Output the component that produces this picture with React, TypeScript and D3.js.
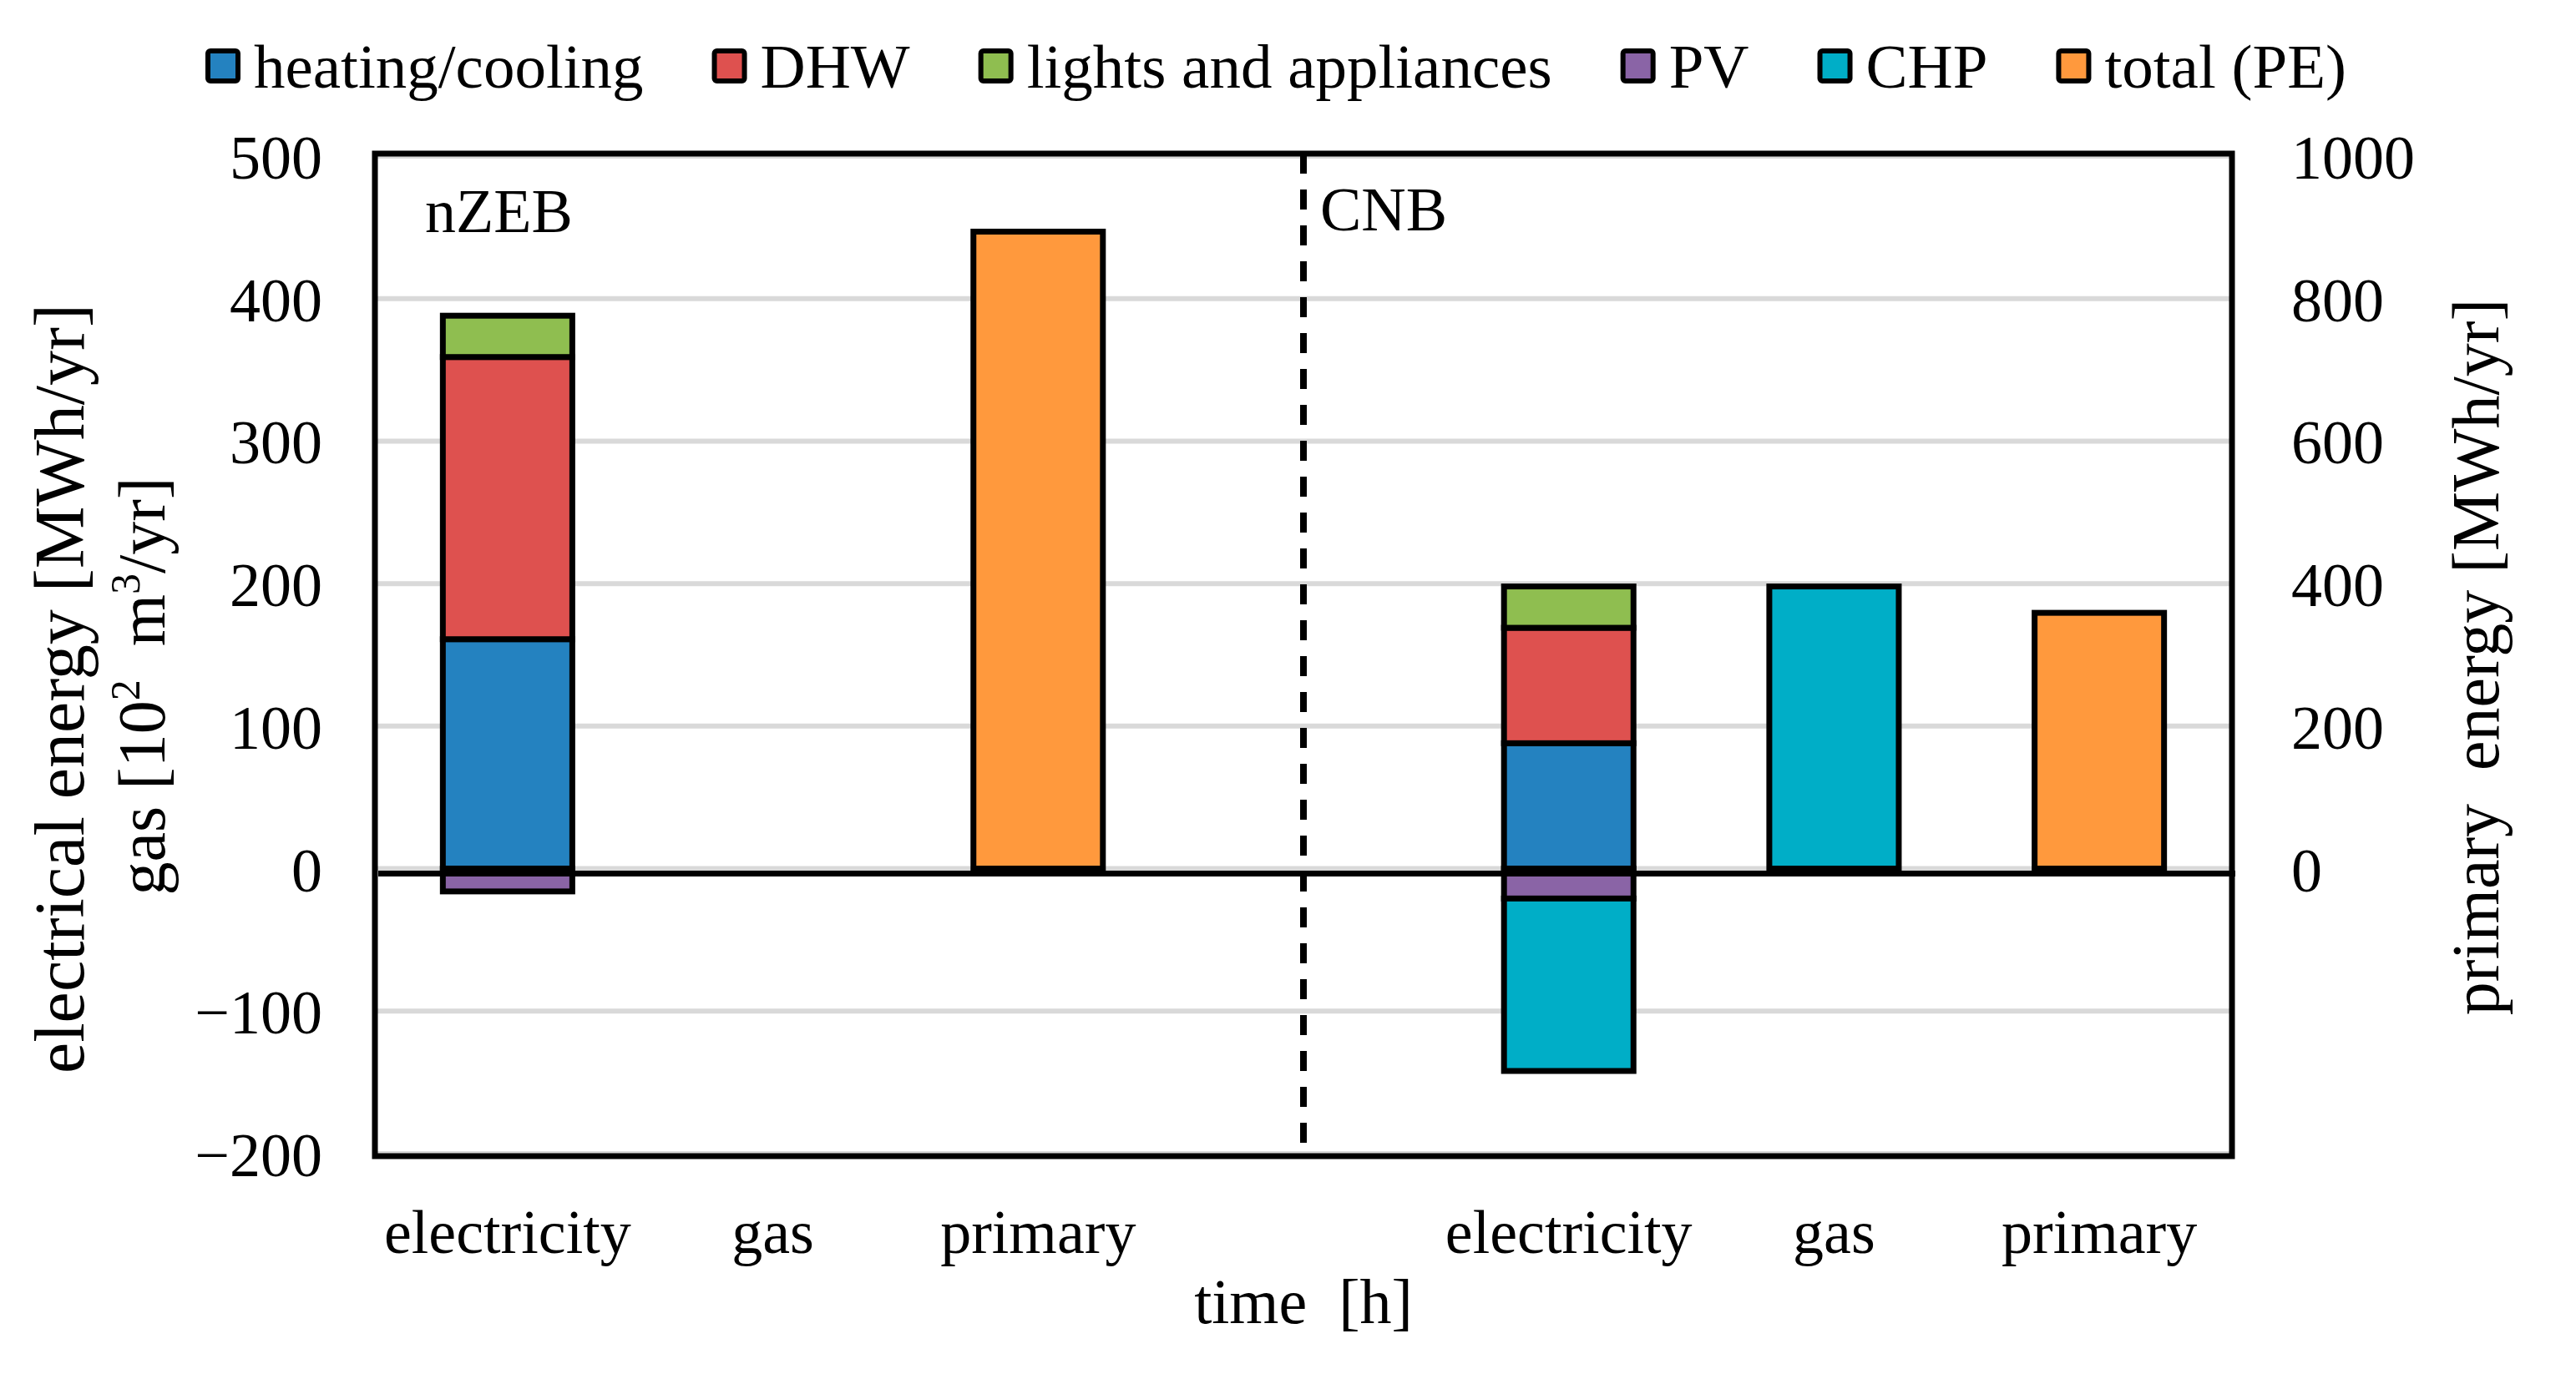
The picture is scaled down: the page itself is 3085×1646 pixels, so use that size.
import React from "react";
import * as d3 from "d3";

// ---- data ----
const buildings = ["nZEB", "CNB"];
const carriers = ["electricity", "gas", "primary"];

// electricity side [MWh/yr]
const heatingCooling = [161, 88];
const dhw = [198, 81];
const lightsAppliances = [29, 29];
const pv = [-16, -21];
const chpElectric = [0, -121];
// gas side [10^2 m3/yr]
const chpGas = [0, 198];
// primary energy, right axis [MWh/yr]
const primaryTotal = [894, 359];

const seriesNames = ["heating/cooling", "DHW", "lights and appliances", "PV", "CHP", "total (PE)"];
const seriesColors = ["#2482C0", "#DE514F", "#8FBE50", "#8A64A6", "#00AEC7", "#FF993D"];

const leftTicks = [-200, -100, 0, 100, 200, 300, 400, 500];
const rightTicks = [0, 200, 400, 600, 800, 1000];

// ---- layout ----
const W = 3085;
const H = 1646;
const X0 = 449;
const X1 = 2673;
const Y0 = 187;
const Y1 = 1382;
const FONT = "'Liberation Serif', 'Times New Roman', serif";
const FS = 74;

type Seg = { key: string; slot: string; a: number; b: number; color: string };

const slotKey = (b: string, c: string) => `${b}|${c}`;

const App = () => {
  const slots = [
    ...carriers.map((c) => slotKey(buildings[0], c)),
    "sep",
    ...carriers.map((c) => slotKey(buildings[1], c)),
  ];

  const x = d3.scaleBand<string>().domain(slots).range([X0, X1]).paddingInner(0.512).paddingOuter(0.256);
  const y = d3.scaleLinear().domain([-200, 500]).range([Y1, Y0]);
  const yR = d3.scaleLinear().domain([-400, 1000]).range([Y1, Y0]);

  const segs: Seg[] = [];
  buildings.forEach((b, i) => {
    // positive electricity stack
    const pos = [heatingCooling[i], dhw[i], lightsAppliances[i]];
    let acc = 0;
    pos.forEach((v, k) => {
      if (!v) return;
      segs.push({ key: `${b}-e-${k}`, slot: slotKey(b, "electricity"), a: y(acc), b: y(acc + v), color: seriesColors[k] });
      acc += v;
    });
    // negative electricity stack
    const neg = [pv[i], chpElectric[i]];
    let accN = 0;
    neg.forEach((v, k) => {
      if (!v) return;
      segs.push({ key: `${b}-n-${k}`, slot: slotKey(b, "electricity"), a: y(accN), b: y(accN + v), color: seriesColors[3 + k] });
      accN += v;
    });
    if (chpGas[i]) {
      segs.push({ key: `${b}-g`, slot: slotKey(b, "gas"), a: y(0), b: y(chpGas[i]), color: seriesColors[4] });
    }
    segs.push({ key: `${b}-p`, slot: slotKey(b, "primary"), a: yR(0), b: yR(primaryTotal[i]), color: seriesColors[5] });
  });

  // legend layout from measured text widths
  const ctx = document.createElement("canvas").getContext("2d")!;
  ctx.font = `75px ${FONT}`;
  let lx = 246;
  const legend = seriesNames.map((name, i) => {
    const item = { name, x: lx, color: seriesColors[i] };
    lx += 58 + ctx.measureText(name).width + 82;
    return item;
  });

  const fmt = d3.format("d");
  const sepX = (x("sep") ?? 0) + x.bandwidth() / 2;

  return (
    <svg width={W} height={H} style={{ position: "absolute", left: 0, top: 0, background: "#fff" }} fontFamily={FONT}>
      <rect width={W} height={H} fill="#fff" />
      {/* gridlines */}
      {leftTicks.map((t) => (
        <line key={t} x1={X0} x2={X1} y1={y(t)} y2={y(t)} stroke="#D9D9D9" strokeWidth={6} />
      ))}
      {/* bars */}
      {segs.map((s) => (
        <rect
          key={s.key}
          x={x(s.slot)}
          width={x.bandwidth()}
          y={Math.min(s.a, s.b)}
          height={Math.abs(s.a - s.b)}
          fill={s.color}
          stroke="#000"
          strokeWidth={7}
        />
      ))}
      {/* zero axis */}
      <line x1={X0 + 4} x2={X1 + 4} y1={y(0) + 6} y2={y(0) + 6} stroke="#000" strokeWidth={7} />
      {/* separator */}
      <line x1={sepX} x2={sepX} y1={Y0 - 3} y2={Y1 + 3} stroke="#000" strokeWidth={8} strokeDasharray="24 19" />
      {/* plot border */}
      <rect x={X0} y={Y0 - 3} width={X1 - X0} height={Y1 - Y0 + 6} fill="none" stroke="#000" strokeWidth={7} />

      {/* left ticks */}
      {leftTicks.map((t) => (
        <text key={t} x={386} y={y(t) + 27} textAnchor="end" fontSize={FS}>
          {fmt(t)}
        </text>
      ))}
      {/* right ticks */}
      {rightTicks.map((t) => (
        <text key={t} x={2744} y={yR(t) + 27} textAnchor="start" fontSize={FS}>
          {fmt(t)}
        </text>
      ))}
      {/* category labels */}
      {buildings.flatMap((b) =>
        carriers.map((c) => (
          <text
            key={slotKey(b, c)}
            x={(x(slotKey(b, c)) ?? 0) + x.bandwidth() / 2}
            y={1501}
            textAnchor="middle"
            fontSize={FS}
          >
            {c}
          </text>
        ))
      )}
      {/* building labels */}
      <text x={509} y={278} fontSize={FS}>{buildings[0]}</text>
      <text x={1581} y={276} fontSize={FS}>{buildings[1]}</text>

      {/* axis titles */}
      <text x={(X0 + X1) / 2} y={1585} textAnchor="middle" fontSize={76} style={{ whiteSpace: "pre" }}>
        {"time  [h]"}
      </text>
      <text transform="translate(100,825) rotate(-90)" textAnchor="middle" fontSize={84} style={{ whiteSpace: "pre" }}>
        electrical energy [MWh/yr]
      </text>
      <text transform="translate(197,822) rotate(-90)" textAnchor="middle" fontSize={80} style={{ whiteSpace: "pre" }}>
        {"gas [10"}
        <tspan dy={-30} fontSize={50}>2</tspan>
        <tspan dy={30}>{"  m"}</tspan>
        <tspan dy={-30} fontSize={50}>3</tspan>
        <tspan dy={30}>/yr]</tspan>
      </text>
      <text transform="translate(2992,787) rotate(-90)" textAnchor="middle" fontSize={80} style={{ whiteSpace: "pre" }}>
        {"primary  energy [MWh/yr]"}
      </text>

      {/* legend */}
      {legend.map((l) => (
        <g key={l.name}>
          <rect x={l.x + 3} y={61} width={36} height={36} rx={3} fill={l.color} stroke="#000" strokeWidth={6} />
          <text x={l.x + 58} y={105} fontSize={75}>
            {l.name}
          </text>
        </g>
      ))}
    </svg>
  );
};

export default App;
